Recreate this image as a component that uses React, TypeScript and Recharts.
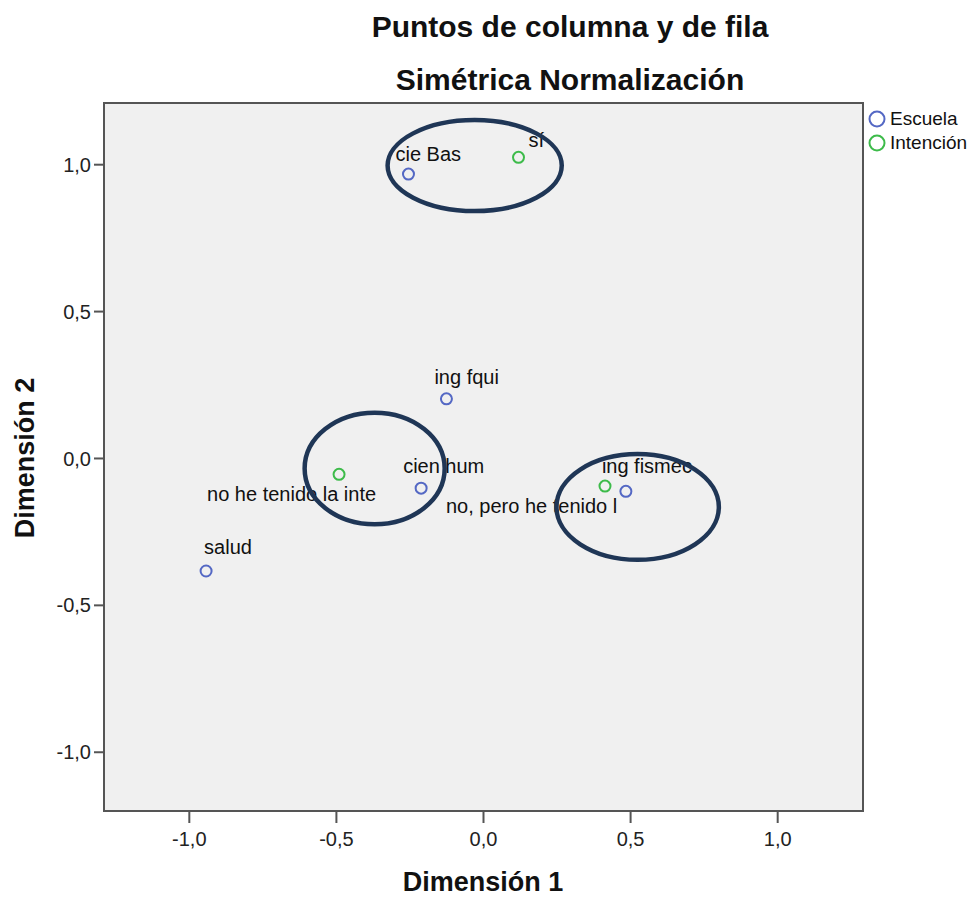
import React from "react";
import { ScatterChart, Scatter, XAxis, YAxis, CartesianGrid, ReferenceArea } from "recharts";

// ---- data ----
const escuelaNames = ["cie Bas", "ing fqui", "cien hum", "ing fismec", "salud"];
const escuelaX = [-0.255, -0.126, -0.212, 0.484, -0.943];
const escuelaY = [0.968, 0.203, -0.101, -0.112, -0.383];

const intencionNames = ["sí", "no he tenido la inte", "no, pero he tenido l"];
const intencionX = [0.119, -0.491, 0.413];
const intencionY = [1.025, -0.054, -0.094];

// annotation ellipses (data units)
const ellipseCX = [-0.03, -0.37, 0.524];
const ellipseCY = [0.997, -0.034, -0.165];
const ellipseRX = [0.296, 0.238, 0.276];
const ellipseRY = [0.155, 0.19, 0.18];

const axisTicks = [-1, -0.5, 0, 0.5, 1];

const titleLine1 = "Puntos de columna y de fila";
const titleLine2 = "Simétrica Normalización";
const xTitle = "Dimensión 1";
const yTitle = "Dimensión 2";
const legendNames = ["Escuela", "Intención"];

// ---- layout / style ----
const W = 968;
const H = 889;
const X_MIN = -1.29;
const X_MAX = 1.29;
const Y_MIN = -1.2;
const Y_MAX = 1.21;
const MARGIN = { top: 95, right: 113, bottom: 0, left: 0 };
const Y_AXIS_W = 96;
const X_AXIS_H = 86;
const PLOT_W = W - MARGIN.left - MARGIN.right - Y_AXIS_W;
const PLOT_H = H - MARGIN.top - MARGIN.bottom - X_AXIS_H;
const PX_X = PLOT_W / (X_MAX - X_MIN);
const PX_Y = PLOT_H / (Y_MAX - Y_MIN);

const BLUE = "#5468c4";
const GREEN = "#3dbb4a";
const NAVY = "#1f3656";
const FONT = "'Liberation Sans', Arial, sans-serif";

// label placement relative to marker (text start dx, text middle dy)
const labelPlacement: Record<string, [number, number]> = {
  "cie Bas": [-13, -20],
  "sí": [10, -17],
  "ing fqui": [-12, -22],
  "cien hum": [-18, -22],
  "ing fismec": [-24, -25],
  "salud": [-2, -24],
  "no he tenido la inte": [-132, 20],
  "no, pero he tenido l": [-159, 20],
};

const escuelaData = escuelaNames.map((name, i) => ({ name, x: escuelaX[i], y: escuelaY[i] }));
const intencionData = intencionNames.map((name, i) => ({ name, x: intencionX[i], y: intencionY[i] }));
const ellipseData = ellipseCX.map((cx, i) => ({ x: cx, y: ellipseCY[i], rx: ellipseRX[i], ry: ellipseRY[i] }));

const fmt = (v: number) => v.toFixed(1).replace(".", ",");

const makePoint = (color: string) => (props: any) => {
  const { cx, cy, payload } = props;
  if (cx == null || cy == null) return <g />;
  const pl = labelPlacement[payload.name] || [0, -20];
  return (
    <g>
      <circle cx={cx} cy={cy} r={5.5} fill="none" stroke={color} strokeWidth={2} />
      <text
        x={cx + pl[0]}
        y={cy + pl[1]}
        dominantBaseline="central"
        textAnchor="start"
        fontSize={20}
        fontFamily={FONT}
        fill="#111"
      >
        {payload.name}
      </text>
    </g>
  );
};

const ellipseShape = (props: any) => {
  const { cx, cy, payload } = props;
  if (cx == null || cy == null) return <g />;
  return (
    <ellipse
      cx={cx}
      cy={cy}
      rx={payload.rx * PX_X}
      ry={payload.ry * PX_Y}
      fill="none"
      stroke={NAVY}
      strokeWidth={4.5}
    />
  );
};

const tickStyle = { fontSize: 20, fontFamily: FONT, fill: "#222" };

const titleStyle: React.CSSProperties = {
  position: "absolute",
  left: 262,
  width: 600,
  textAlign: "center",
  fontWeight: "bold",
  fontSize: 30,
  lineHeight: "32px",
  color: "#111",
};

export default function App() {
  return (
    <div style={{ position: "relative", width: W, height: H, fontFamily: FONT, background: "#fff" }}>
      <ScatterChart width={W} height={H} margin={MARGIN}>
        <CartesianGrid fill="#f0f0f0" horizontal={false} vertical={false} />
        <XAxis
          type="number"
          dataKey="x"
          domain={[X_MIN, X_MAX]}
          ticks={axisTicks}
          tickFormatter={fmt}
          allowDataOverflow
          height={X_AXIS_H}
          tickSize={12}
          tickMargin={9}
          tick={tickStyle}
          stroke="#555"
          strokeWidth={2}
        />
        <YAxis
          type="number"
          dataKey="y"
          domain={[Y_MIN, Y_MAX]}
          ticks={axisTicks}
          tickFormatter={fmt}
          allowDataOverflow
          width={Y_AXIS_W}
          tickSize={10}
          tickMargin={3}
          tick={tickStyle}
          stroke="#555"
          strokeWidth={2}
        />
        <ReferenceArea x1={X_MIN} x2={X_MAX} y1={Y_MIN} y2={Y_MAX} fill="none" stroke="#555" strokeWidth={2} ifOverflow="visible" />
        <Scatter data={escuelaData} shape={makePoint(BLUE)} isAnimationActive={false} />
        <Scatter data={intencionData} shape={makePoint(GREEN)} isAnimationActive={false} />
        <Scatter data={ellipseData} shape={ellipseShape} isAnimationActive={false} />
      </ScatterChart>

      <div style={{ ...titleStyle, top: 3 }}>{titleLine1}</div>
      <div style={{ ...titleStyle, top: 56 }}>{titleLine2}</div>
      <div style={{ position: "absolute", left: 275, width: 400, top: 861, textAlign: "center", fontWeight: "bold", fontSize: 27, lineHeight: "26px", color: "#111" }}>
        {xTitle}
      </div>
      <div style={{ position: "absolute", left: 17 - 200, width: 400, top: 450 - 15, textAlign: "center", fontWeight: "bold", fontSize: 27, lineHeight: "30px", color: "#111", transform: "rotate(-90deg)" }}>
        {yTitle}
      </div>
      <div style={{ position: "absolute", left: 859, top: 99, fontSize: 19, color: "#111", whiteSpace: "nowrap" }}>
        {legendNames.map((n, i) => (
          <div key={n} style={{ display: "flex", alignItems: "center", height: 24 }}>
            <svg width={20} height={20} style={{ marginRight: 3 }}>
              <circle cx={10} cy={10} r={7.5} fill="none" stroke={i === 0 ? BLUE : GREEN} strokeWidth={2} />
            </svg>
            <span>{n}</span>
          </div>
        ))}
      </div>
    </div>
  );
}
